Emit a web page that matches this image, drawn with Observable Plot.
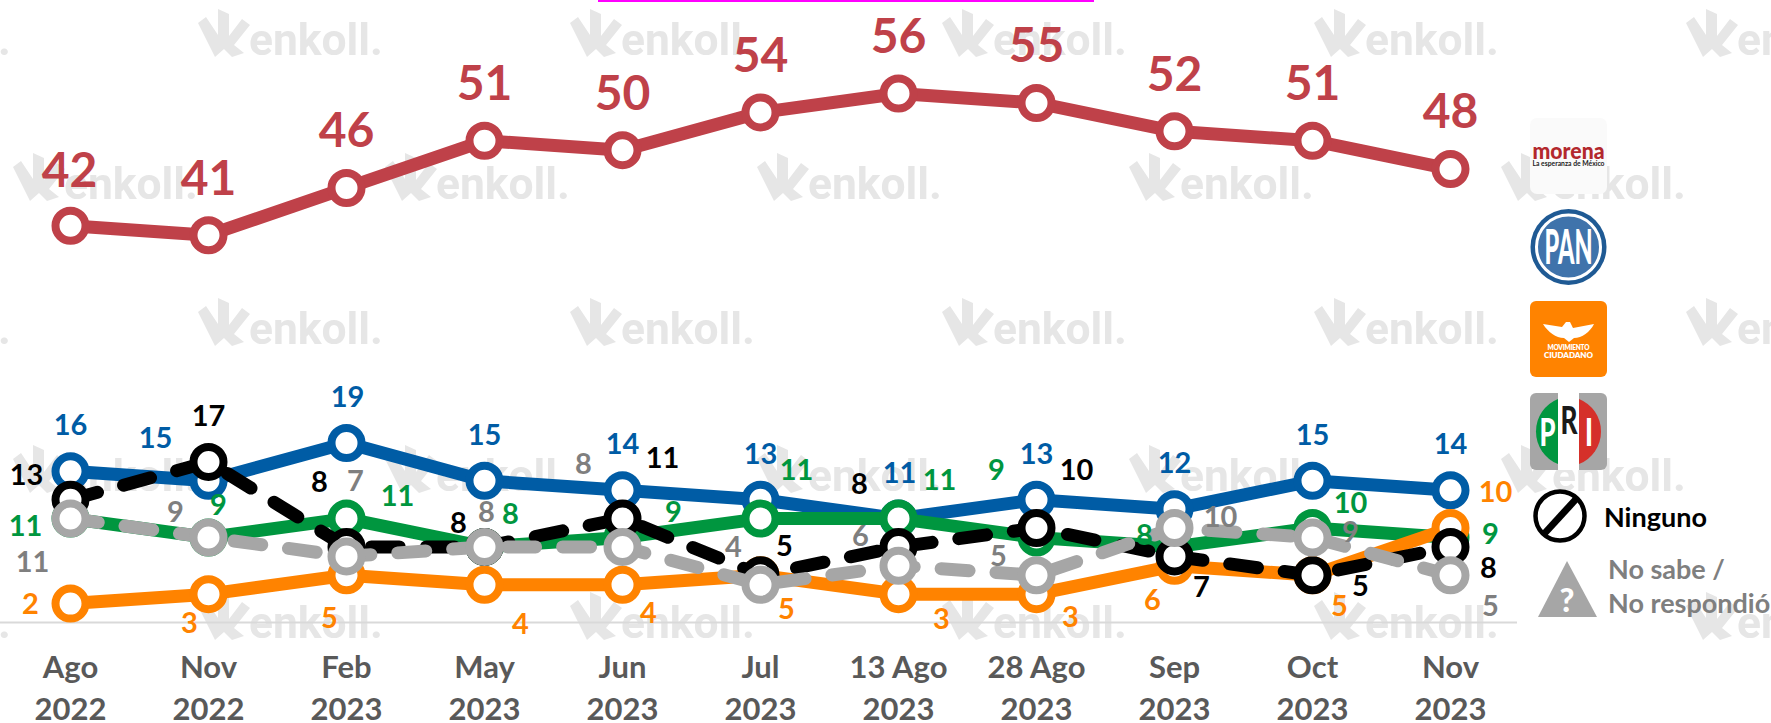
<!DOCTYPE html>
<html lang="es">
<head>
<meta charset="utf-8">
<title>Enkoll</title>
<script src="https://cdn.jsdelivr.net/npm/d3@7"></script>
<script src="https://cdn.jsdelivr.net/npm/@observablehq/plot@0.6"></script>
<style>
html,body{margin:0;padding:0;background:#fff;width:1771px;height:723px;overflow:hidden;font-family:Lato,sans-serif}
#stage{position:relative;width:1771px;height:723px;overflow:hidden}
#stage>*{position:absolute;left:0;top:0}
#wm{filter:blur(0.7px)}
</style>
</head>
<body>
<div id="stage">
<svg id="wm" width="1771" height="723" viewBox="0 0 1771 723"></svg>
<div id="chart"></div>
<svg id="legend" width="1771" height="723" viewBox="0 0 1771 723" font-family="Lato,sans-serif">
  <rect x="598" y="0" width="496" height="2" fill="#ff00ff"/>
  <!-- morena -->
  <rect x="1530" y="118" width="77" height="76" rx="7" fill="#fafafa"/>
  <text x="1568.5" y="159" text-anchor="middle" font-size="22" font-weight="900" fill="#b3282d" textLength="72" lengthAdjust="spacingAndGlyphs">morena</text>
  <text x="1568.5" y="166" text-anchor="middle" font-size="6.5" font-weight="700" fill="#222" textLength="72" lengthAdjust="spacingAndGlyphs">La esperanza de México</text>
  <!-- PAN -->
  <circle cx="1568.5" cy="247" r="38" fill="#1f5a94"/>
  <circle cx="1568.5" cy="247" r="32" fill="#3f73ab" stroke="#fff" stroke-width="3"/>
  <text x="1568.5" y="264" text-anchor="middle" font-size="47" font-weight="900" fill="#fff" textLength="48" lengthAdjust="spacingAndGlyphs">PAN</text>
  <!-- Movimiento Ciudadano -->
  <rect x="1530" y="301" width="77" height="76" rx="6" fill="#ff8300"/>
  <path d="M1543 324 L1562 327 L1566 322 L1570 322 L1573 328 L1594 324 C1590 332 1582 338 1574 338 L1569 342 L1564 338 C1556 338 1548 332 1543 324Z" fill="#fff"/>
  <text x="1568.5" y="350" text-anchor="middle" font-size="6.5" font-weight="800" fill="#fff" textLength="42">MOVIMIENTO</text>
  <text x="1568.5" y="358" text-anchor="middle" font-size="8" font-weight="800" fill="#fff" textLength="49">CIUDADANO</text>
  <!-- PRI -->
  <rect x="1530" y="393" width="77" height="77" rx="6" fill="#a6a6a6"/>
  <path d="M1558 399 A35 35 0 0 0 1558 464Z" fill="#00963f"/>
  <rect x="1558" y="393" width="21" height="77" fill="#fff"/>
  <path d="M1579 399 A35 35 0 0 1 1579 464Z" fill="#d5302a"/>
  <text x="1547.5" y="446" text-anchor="middle" font-size="38" font-weight="900" fill="#fff" textLength="16" lengthAdjust="spacingAndGlyphs">P</text>
  <text x="1569" y="434" text-anchor="middle" font-size="38" font-weight="900" fill="#1a1a1a" textLength="17" lengthAdjust="spacingAndGlyphs">R</text>
  <text x="1589" y="446" text-anchor="middle" font-size="38" font-weight="900" fill="#fff" textLength="8" lengthAdjust="spacingAndGlyphs">I</text>
  <!-- Ninguno -->
  <circle cx="1560" cy="516" r="24.5" fill="#fff" stroke="#000" stroke-width="4.5"/>
  <line x1="1544" y1="534" x2="1577" y2="498" stroke="#000" stroke-width="7"/>
  <text x="1604" y="527" font-size="27" font-weight="700" fill="#000">Ninguno</text>
  <!-- No sabe -->
  <path d="M1567 561 L1597 617 L1538 617Z" fill="#a6a6a6"/>
  <text x="1567" y="612" text-anchor="middle" font-size="32" font-weight="900" fill="#fff">?</text>
  <text x="1608" y="579" font-size="27" font-weight="700" fill="#7f7f7f">No sabe /</text>
  <text x="1608" y="613" font-size="27" font-weight="700" fill="#7f7f7f">No respondió</text>
</svg>
</div>
<script>
const categories = ["Ago 2022","Nov 2022","Feb 2023","May 2023","Jun 2023","Jul 2023","13 Ago 2023","28 Ago 2023","Sep 2023","Oct 2023","Nov 2023"];
const morena   = [42,41,46,51,50,54,56,55,52,51,48];
const pan      = [16,15,19,15,14,13,11,13,12,15,14];
const pri      = [11, 9,11, 8, 9,11,11, 9, 8,10, 9];
const mc       = [ 2, 3, 5, 4, 4, 5, 3, 3, 6, 5,10];
const ninguno  = [13,17, 8, 8,11, 5, 8,10, 7, 5, 8];
const noSabe   = [11, 9, 7, 8, 8, 4, 6, 5,10, 9, 5];

// Label placement (px from each point), kept apart from the values
const nudgeMorena  = [[-1,-54],[0,-56],[0,-56],[0,-56],[0,-56],[0,-56],[0,-56],[0,-56],[0,-56],[0,-56],[0,-56]];
const nudgePan     = [[0,-46],[-53,-42],[1,-45],[0,-45],[0,-46],[0,-45],[1,-45],[0,-45],[0,-45],[0,-45],[0,-46]];
const nudgePri     = [[-45,8],[10,-32],[51,-22],[26,-32],[51,-25],[36,-48],[41,-38],[-40,-67],[-30,-11],[38,-24],[40,-3]];
const nudgeMc      = [[-40,1],[-19,30],[-17,43],[36,40],[26,29],[26,34],[43,26],[34,24],[-22,35],[27,31],[45,-35]];
const nudgeNinguno = [[-44,-24],[0,-45],[-27,-64],[-26,-23],[40,-60],[24,-29],[-39,-62],[40,-57],[27,31],[48,11],[38,22]];
const nudgeNoSabe  = [[-38,44],[-33,-25],[9,-75],[2,-34],[-39,-82],[-27,-37],[-38,-29],[-38,-19],[46,-10],[38,-5],[40,31]];

const series = [
  {values: morena,  nudge: nudgeMorena,  color: "#bf4149", label: "#bf4149", size: 48},
  {values: pan,     nudge: nudgePan,     color: "#005ca5", label: "#005ca5", size: 29},
  {values: pri,     nudge: nudgePri,     color: "#00963f", label: "#00963f", size: 29},
  {values: mc,      nudge: nudgeMc,      color: "#ff8300", label: "#ff8300", size: 29},
  {values: ninguno, nudge: nudgeNinguno, color: "#000000", label: "#000000", size: 29, dash: "28,27"},
  {values: noSabe,  nudge: nudgeNoSabe,  color: "#a6a6a6", label: "#7f7f7f", size: 29, dash: "28,27"}
];

const rowsOf = s => categories.map((c,i) => ({c, v: s.values[i]}));
const lineMarks = series.flatMap(s => [
  Plot.line(rowsOf(s), {x:"c", y:"v", stroke:s.color, strokeWidth:13, strokeLinejoin:"round",
    strokeLinecap: s.dash ? "round" : "butt", strokeDasharray: s.dash}),
  Plot.dot(rowsOf(s), {x:"c", y:"v", r:15, fill:"#fff", stroke:s.color, strokeWidth:8})
]);
const labelMarks = series.flatMap(s => rowsOf(s).map((d,i) =>
  Plot.text([d], {x:"c", y:"v", text:r => String(r.v), dx:s.nudge[i][0], dy:s.nudge[i][1],
    fill:s.label, fontSize:s.size, fontWeight:700, textAnchor:"middle", lineAnchor:"middle"})
));

const chart = Plot.plot({
  width: 1771, height: 723,
  marginLeft: 0, marginRight: 254, marginTop: 0, marginBottom: 101,
  style: {background:"transparent", fontFamily:"Lato,sans-serif", overflow:"visible"},
  x: {type:"point", domain:categories, range:[69,1451], padding:0, label:null},
  y: {domain:[0,56], range:[622,93], axis:null, label:null},
  marks: [
    Plot.ruleY([0], {stroke:"#d9d9d9", strokeWidth:2}),
    Plot.axisX({anchor:"bottom", tickSize:0, tickPadding:26, label:null, fontSize:31, fontWeight:700,
      fill:"#595959", lineHeight:1.35, lineAnchor:"top",
      tickFormat: c => c.replace(/ (\d{4})$/, "\n$1")}),
    ...lineMarks,
    ...labelMarks
  ]
});
document.getElementById("chart").appendChild(chart);

// Repeating "enkoll." watermark behind the chart
const wm = d3.select("#wm");
const rowsTop = [9,153,298,445,592];
rowsTop.forEach((top,r) => {
  const start = r % 2 ? 13 : -174;
  for (let x = start; x < 1771; x += 372) {
    const g = wm.append("g").attr("transform", `translate(${x},${top})`).attr("fill","#e6e6e6");
    g.append("path").attr("d","M0 14 L8 8 L20 26 L20 0 L31 5 L31 27 L44 10 L52 16 L36 36 L46 44 L34 48 L26 40 L17 48 Z");
    g.append("text").attr("x",51).attr("y",46).attr("font-family","Roboto,sans-serif").attr("font-weight",700)
      .attr("font-size",44).attr("textLength",134).attr("lengthAdjust","spacingAndGlyphs").text("enkoll.");
  }
});
</script>
</body>
</html>
